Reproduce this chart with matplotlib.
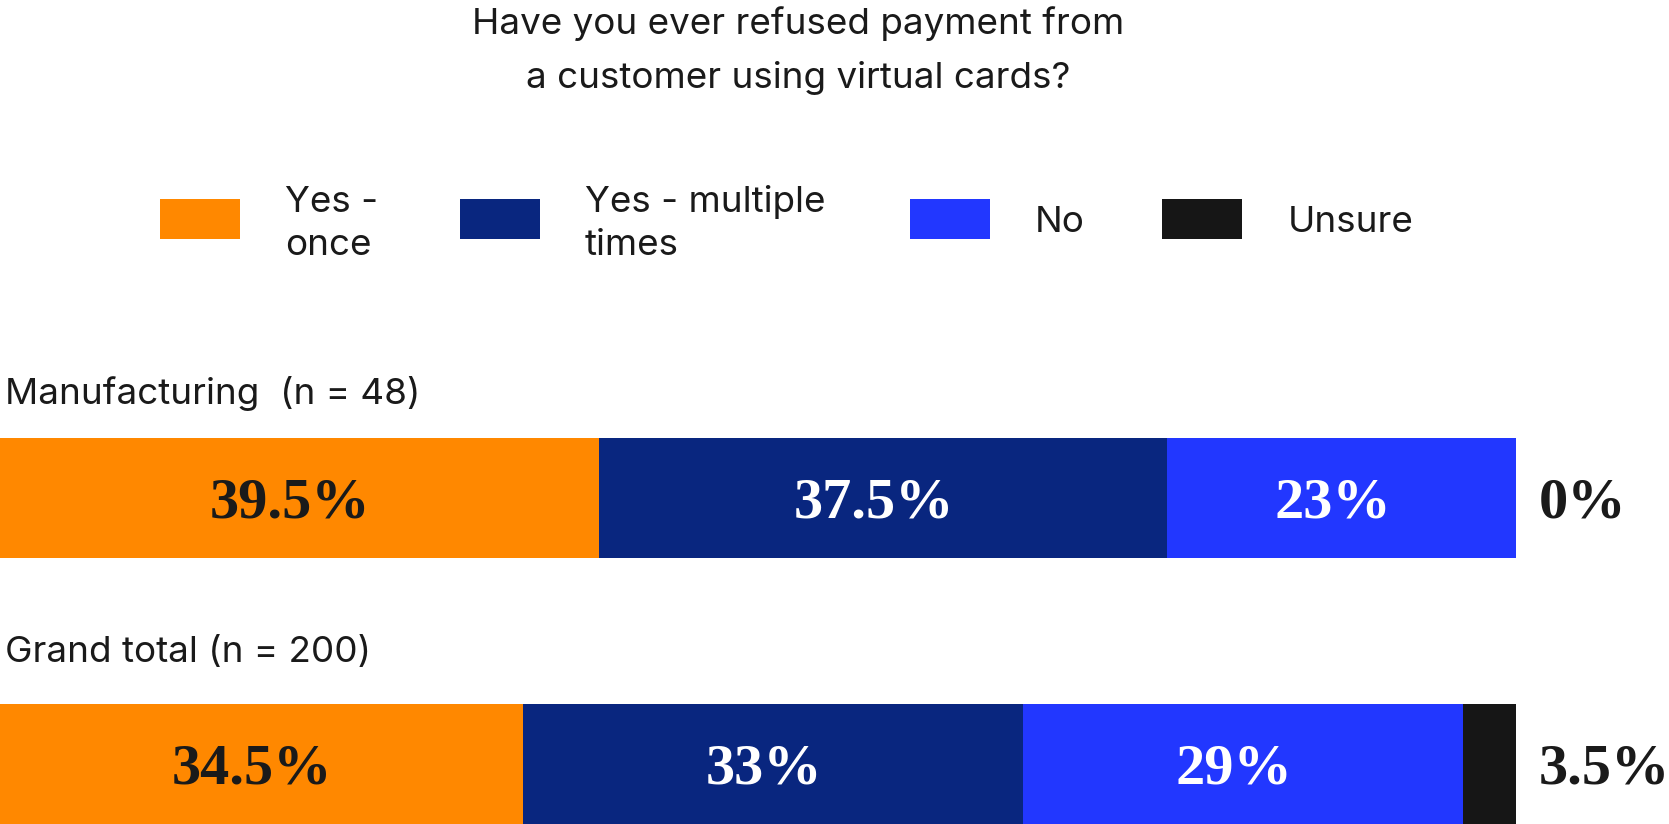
import matplotlib.pyplot as plt
from matplotlib.patches import Rectangle
import numpy as np

# ── Data ──
title_lines = ["Have you ever refused payment from", "a customer using virtual cards?"]
groups = ["Manufacturing  (n = 48)", "Grand total (n = 200)"]
answers = ["Yes -\nonce", "Yes - multiple\ntimes", "No", "Unsure"]
manufacturing = [39.5, 37.5, 23, 0]
grand_total = [34.5, 33, 29, 3.5]
value_labels = [["39.5%", "37.5%", "23%", "0%"],
                ["34.5%", "33%", "29%", "3.5%"]]

colors = ["#FF8800", "#09267F", "#2237FF", "#161616"]
text_colors = ["#1a1a1a", "white", "white", "#1a1a1a"]

W, H = 1669, 824
fig = plt.figure(figsize=(W / 100, H / 100), dpi=100)

SANS = "Inter"
SERIF = "Liberation Serif"


def fx(px):
    return px / W


def fy(py):
    return 1 - py / H


# ── Title ──
for line, base in zip(title_lines, [34, 88]):
    fig.text(fx(798), fy(base), line, ha="center", va="baseline",
             fontsize=26.5, family=SANS, color="#1a1a1a")

# ── Legend (drawn by hand) ──
box_x = [160, 460, 910, 1162]
text_x = [285, 585, 1035, 1288]
for col, bx, tx, lab in zip(colors, box_x, text_x, answers):
    fig.add_artist(Rectangle((fx(bx), fy(239)), 80 / W, 40 / H,
                             transform=fig.transFigure, color=col, lw=0))
    lines = lab.split("\n")
    bases = [212, 255] if len(lines) == 2 else [232]
    for ln, b in zip(lines, bases):
        fig.text(fx(tx), fy(b), ln, ha="left", va="baseline",
                 fontsize=26.5, family=SANS, color="#1a1a1a")

# ── Bars ──
ax = fig.add_axes([0, 0, 1516 / W, 1])
ax.set_xlim(0, 100)
ax.set_ylim(H, 0)
ax.axis("off")

bar_centers = [498, 764]
label_bases = [404, 662]
data = [manufacturing, grand_total]
for row, (vals, yc, lb, grp) in enumerate(zip(data, bar_centers, label_bases, groups)):
    fig.text(fx(5), fy(lb), grp, ha="left", va="baseline",
             fontsize=26.5, family=SANS, color="#1a1a1a")
    left = np.concatenate([[0], np.cumsum(vals)[:-1]])
    ax.barh(yc, vals, left=left, height=120, color=colors, linewidth=0)
    for i, (v, l) in enumerate(zip(vals, left)):
        if i < 3:
            ax.text(l + v / 2 - 0.6, yc, value_labels[row][i], ha="center",
                    va="center_baseline", fontsize=42, family=SERIF,
                    fontweight="bold", color=text_colors[i])
        else:
            ax.text(101.5, yc, value_labels[row][i], ha="left", va="center_baseline",
                    fontsize=42, family=SERIF, fontweight="bold", color="#1a1a1a",
                    clip_on=False)

plt.savefig("out.png", dpi=100)
